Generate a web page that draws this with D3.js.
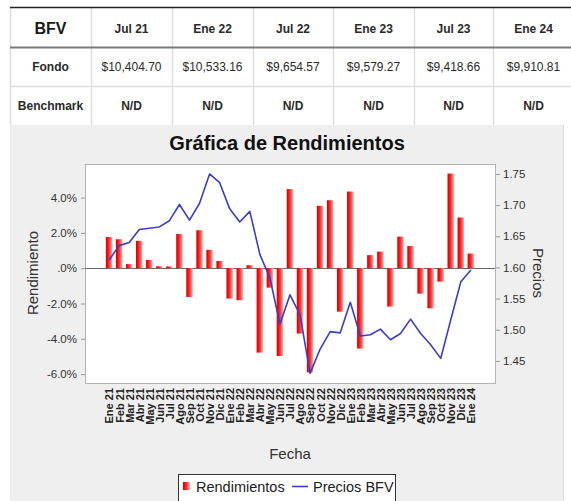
<!DOCTYPE html>
<html>
<head>
<meta charset="utf-8">
<script src="https://cdn.jsdelivr.net/npm/d3@7"></script>
<style>
  html, body { margin: 0; padding: 0; background: #fff; }
  svg { display: block; font-family: "Liberation Sans", Arial, sans-serif; }
</style>
</head>
<body>
<svg id="chart" width="571" height="501"></svg>
<script>
// ---------- DATA ----------
const tableCorner = "BFV";
const tableHeaders = ["Jul 21", "Ene 22", "Jul 22", "Ene 23", "Jul 23", "Ene 24"];
const rowLabels = ["Fondo", "Benchmark"];
const fondoValues = ["$10,404.70", "$10,533.16", "$9,654.57", "$9,579.27", "$9,418.66", "$9,910.81"];
const benchmarkValues = ["N/D", "N/D", "N/D", "N/D", "N/D", "N/D"];

const months = [
  "Ene 21","Feb 21","Mar 21","Abr 21","May 21","Jun 21","Jul 21","Ago 21","Sep 21","Oct 21","Nov 21","Dic 21",
  "Ene 22","Feb 22","Mar 22","Abr 22","May 22","Jun 22","Jul 22","Ago 22","Sep 22","Oct 22","Nov 22","Dic 22",
  "Ene 23","Feb 23","Mar 23","Abr 23","May 23","Jun 23","Jul 23","Ago 23","Sep 23","Oct 23","Nov 23","Dic 23",
  "Ene 24"
];
const rendimientos = [
  1.77, 1.64, 0.23, 1.55, 0.47, 0.11, 0.10, 1.94, -1.63, 2.15, 1.04, 0.41,
  -1.72, -1.81, 0.17, -4.78, -1.10, -4.97, 4.48, -3.70, -5.90, 3.53, 3.85, -2.46,
  4.34, -4.55, 0.74, 0.94, -2.17, 1.79, 1.26, -1.44, -2.27, -0.76, 5.36, 2.87,
  0.83
];
const precios = [
  1.612, 1.635, 1.640, 1.661, 1.663, 1.665, 1.675, 1.701, 1.676, 1.703, 1.750, 1.736,
  1.694, 1.673, 1.690, 1.621, 1.583, 1.509, 1.556, 1.524, 1.430, 1.469, 1.497, 1.495,
  1.544, 1.490, 1.492, 1.501, 1.484, 1.494, 1.517, 1.494, 1.476, 1.454, 1.516, 1.577,
  1.596
];
const leftTicks = [4, 2, 0, -2, -4, -6];
const rightTicks = [1.75, 1.70, 1.65, 1.60, 1.55, 1.50, 1.45];

const chartTitle = "Gráfica de Rendimientos";
const leftAxisTitle = "Rendimiento";
const rightAxisTitle = "Precios";
const xAxisTitle = "Fecha";
const legendLabels = ["Rendimientos", "Precios BFV"];

// ---------- DRAW ----------
const svg = d3.select("#chart");

// gradient for bars
const defs = svg.append("defs");
const grad = defs.append("linearGradient").attr("id", "barGrad")
  .attr("x1", "0").attr("x2", "1").attr("y1", "0").attr("y2", "0");
grad.append("stop").attr("offset", "0").attr("stop-color", "#c80000");
grad.append("stop").attr("offset", "0.3").attr("stop-color", "#ff1010");
grad.append("stop").attr("offset", "0.6").attr("stop-color", "#f04848");
grad.append("stop").attr("offset", "1").attr("stop-color", "#f3b8b8");

// ---- table ----
const colEdges = [10, 91, 172, 253, 333, 414, 493, 574];
const rowEdges = [7.5, 47.5, 86.5, 125];
const tbl = svg.append("g");
tbl.append("rect").attr("x", 10).attr("y", rowEdges[0]).attr("width", 561).attr("height", rowEdges[3] - rowEdges[0]).attr("fill", "#fff");
// vertical lines
colEdges.forEach(x => {
  tbl.append("line").attr("x1", x + 0.5).attr("x2", x + 0.5).attr("y1", rowEdges[0]).attr("y2", rowEdges[3])
    .attr("stroke", "#dedede").attr("stroke-width", 1.5);
});
// horizontal lines
tbl.append("line").attr("x1", 10).attr("x2", 571).attr("y1", rowEdges[2]).attr("y2", rowEdges[2]).attr("stroke", "#dedede").attr("stroke-width", 1.5);
tbl.append("line").attr("x1", 10).attr("x2", 571).attr("y1", rowEdges[1]).attr("y2", rowEdges[1]).attr("stroke", "#7a7a7a").attr("stroke-width", 2);
tbl.append("line").attr("x1", 10).attr("x2", 571).attr("y1", rowEdges[0]).attr("y2", rowEdges[0]).attr("stroke", "#222").attr("stroke-width", 1.5);

const rowMid = i => (rowEdges[i] + rowEdges[i + 1]) / 2;
const colMid = i => (colEdges[i] + colEdges[i + 1]) / 2;
tbl.append("text").attr("x", colMid(0)).attr("y", rowMid(0) + 1).attr("text-anchor", "middle").attr("dominant-baseline", "central")
  .attr("font-size", 16).attr("font-weight", "bold").attr("fill", "#1a1a1a").text(tableCorner);
tableHeaders.forEach((h, i) => {
  tbl.append("text").attr("x", colMid(i + 1)).attr("y", rowMid(0) + 1).attr("text-anchor", "middle").attr("dominant-baseline", "central")
    .attr("font-size", 12).attr("font-weight", "bold").attr("fill", "#2a2a2a").text(h);
});
rowLabels.forEach((r, j) => {
  tbl.append("text").attr("x", colMid(0)).attr("y", rowMid(j + 1)).attr("text-anchor", "middle").attr("dominant-baseline", "central")
    .attr("font-size", 12).attr("font-weight", "bold").attr("fill", "#2a2a2a").text(r);
});
fondoValues.forEach((v, i) => {
  tbl.append("text").attr("x", colMid(i + 1)).attr("y", rowMid(1)).attr("text-anchor", "middle").attr("dominant-baseline", "central")
    .attr("font-size", 12).attr("fill", "#2a2a2a").text(v);
});
benchmarkValues.forEach((v, i) => {
  tbl.append("text").attr("x", colMid(i + 1)).attr("y", rowMid(2)).attr("text-anchor", "middle").attr("dominant-baseline", "central")
    .attr("font-size", 12).attr("font-weight", "bold").attr("fill", "#2a2a2a").text(v);
});

// ---- chart panel ----
svg.append("rect").attr("x", 10).attr("y", 125).attr("width", 553).attr("height", 376).attr("fill", "#efefef");
svg.append("line").attr("x1", 563.5).attr("x2", 563.5).attr("y1", 125).attr("y2", 501).attr("stroke", "#dcdcdc");

svg.append("text").attr("x", 287).attr("y", 150).attr("text-anchor", "middle")
  .attr("font-size", 20).attr("font-weight", "bold").attr("fill", "#111").text(chartTitle);

const plot = { left: 85, right: 495, top: 164, bottom: 383 };

const x = d3.scalePoint().domain(months).range([plot.left, plot.right]).padding(2.4);
const yL = d3.scaleLinear().domain([-6.5, 5.9]).range([plot.bottom, plot.top]);
const yR = d3.scaleLinear().domain([1.4145, 1.766]).range([plot.bottom, plot.top]);

svg.append("rect").attr("x", plot.left + 0.5).attr("y", plot.top + 0.5)
  .attr("width", plot.right - plot.left).attr("height", plot.bottom - plot.top)
  .attr("fill", "#fff").attr("stroke", "#b4b4b4");

// zero line
svg.append("line").attr("x1", plot.left).attr("x2", plot.right)
  .attr("y1", Math.round(yL(0)) + 0.5).attr("y2", Math.round(yL(0)) + 0.5)
  .attr("stroke", "#6a6a6a").attr("stroke-width", 1);

// bars
const barW = 6.5;
svg.append("g").selectAll("rect").data(rendimientos).join("rect")
  .attr("x", (d, i) => x(months[i]) - barW / 2)
  .attr("y", d => Math.min(yL(d), yL(0)))
  .attr("width", barW)
  .attr("height", d => Math.abs(yL(d) - yL(0)))
  .attr("fill", "url(#barGrad)");

// line
const line = d3.line().x((d, i) => x(months[i])).y(d => yR(d));
svg.append("path").datum(precios).attr("d", line)
  .attr("fill", "none").attr("stroke", "#3c3cc8").attr("stroke-width", 1.6).attr("stroke-linejoin", "round");

// axes
const fmtL = d => (d === 0 ? ".0%" : (d < 0 ? "-" : "") + Math.abs(d).toFixed(1) + "%");
const axL = svg.append("g").attr("transform", `translate(${plot.left},0)`)
  .call(d3.axisLeft(yL).tickValues(leftTicks).tickFormat(fmtL).tickSize(4).tickPadding(4));
const axR = svg.append("g").attr("transform", `translate(${plot.right + 1},0)`)
  .call(d3.axisRight(yR).tickValues(rightTicks).tickFormat(d3.format(".2f")).tickSize(4).tickPadding(3));
[axL, axR].forEach(a => {
  a.select(".domain").remove();
  a.selectAll(".tick line").attr("stroke", "#999");
  a.selectAll(".tick text").attr("font-size", 11.5).attr("fill", "#333").attr("font-family", "Liberation Sans, Arial, sans-serif");
});

const axX = svg.append("g").attr("transform", `translate(0,${plot.bottom})`)
  .call(d3.axisBottom(x).tickSize(0).tickPadding(0));
axX.select(".domain").remove();
axX.selectAll(".tick text")
  .attr("transform", "rotate(-90)")
  .attr("x", -5).attr("y", 0).attr("dy", "0.35em")
  .attr("text-anchor", "end")
  .attr("font-size", 11).attr("font-weight", "bold").attr("fill", "#222")
  .attr("font-family", "Liberation Sans, Arial, sans-serif");

// axis titles
svg.append("text").attr("transform", "translate(38,273) rotate(-90)").attr("text-anchor", "middle")
  .attr("font-size", 15).attr("fill", "#333").text(leftAxisTitle);
svg.append("text").attr("transform", "translate(533,273) rotate(90)").attr("text-anchor", "middle")
  .attr("font-size", 15).attr("fill", "#333").text(rightAxisTitle);
svg.append("text").attr("x", 290).attr("y", 459).attr("text-anchor", "middle")
  .attr("font-size", 15).attr("fill", "#333").text(xAxisTitle);

// legend
const lg = svg.append("g");
lg.append("rect").attr("x", 178.5).attr("y", 474.5).attr("width", 217).attr("height", 40)
  .attr("fill", "#fff").attr("stroke", "#333");
lg.append("rect").attr("x", 183).attr("y", 482).attr("width", 7).attr("height", 8).attr("fill", "url(#barGrad)");
lg.append("text").attr("x", 196).attr("y", 492).attr("font-size", 14.5).attr("fill", "#222").text(legendLabels[0]);
lg.append("line").attr("x1", 292).attr("x2", 308).attr("y1", 486.5).attr("y2", 486.5).attr("stroke", "#3c3cc8").attr("stroke-width", 1.6);
lg.append("text").attr("x", 313).attr("y", 492).attr("font-size", 14.5).attr("fill", "#222").text(legendLabels[1]);
</script>
</body>
</html>
